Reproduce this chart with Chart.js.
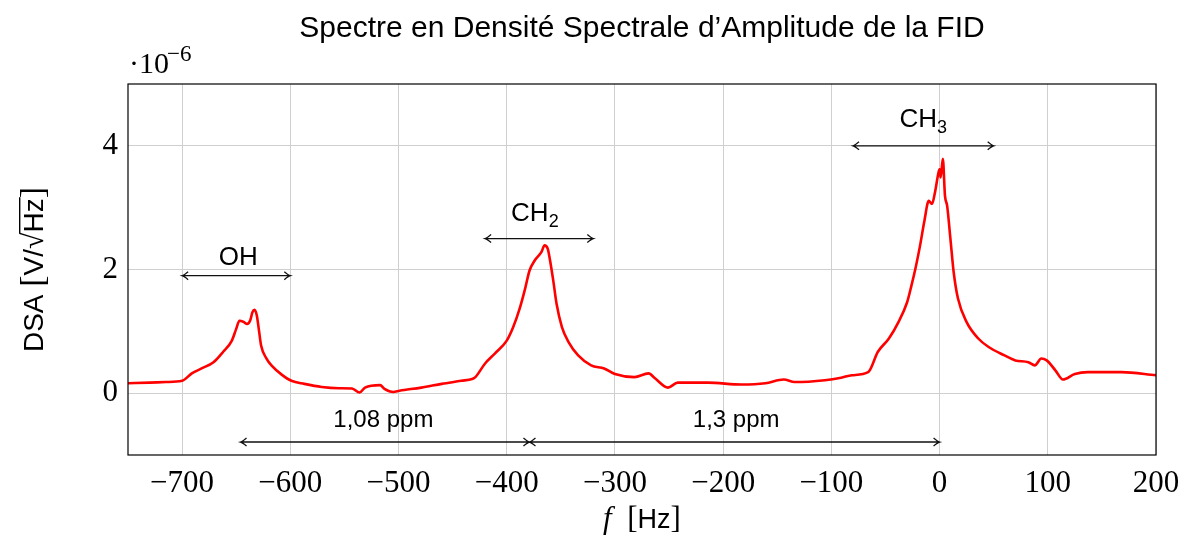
<!DOCTYPE html>
<html>
<head>
<meta charset="utf-8">
<script src="https://cdn.jsdelivr.net/npm/chart.js@4.4.1/dist/chart.umd.min.js"></script>
<style>
  html, body { margin: 0; padding: 0; background: #fff; }
</style>
</head>
<body>
<canvas id="fid" width="1186" height="536"></canvas>
<script>
// frequence (Hz) et DSA (en 1e-6 V/sqrt(Hz))
const freqHz = [-750, -730, -715, -700, -691, -682, -671, -662, -654, -650, -647, -643, -640, -637, -635, -633, -631, -629, -627, -622, -617, -608, -599, -587, -571, -555, -543, -536, -531, -517, -513, -505, -499, -479, -460, -442, -432, -429, -420, -411, -400, -394, -388, -383, -379, -374, -368, -365, -362, -360, -357, -354, -349, -343, -334, -322, -310, -300, -282, -269, -263, -251, -242, -214, -183, -161, -144, -134, -106, -91, -81, -66, -57, -47, -38, -30, -26, -22, -18, -14, -10, -7, -4, -1, 0, 1, 3, 5, 7, 10, 13, 17, 25, 36, 45, 60, 70, 82, 88, 94, 99, 107, 114, 125, 137, 168, 200];
const dsa = [0.16, 0.17, 0.18, 0.20, 0.32, 0.40, 0.50, 0.67, 0.85, 1.04, 1.17, 1.15, 1.12, 1.18, 1.31, 1.35, 1.26, 1.02, 0.77, 0.56, 0.44, 0.30, 0.20, 0.15, 0.10, 0.08, 0.075, 0.01, 0.09, 0.13, 0.07, 0.02, 0.04, 0.09, 0.15, 0.20, 0.23, 0.26, 0.48, 0.64, 0.85, 1.07, 1.37, 1.69, 1.98, 2.15, 2.28, 2.39, 2.33, 2.15, 1.82, 1.45, 1.07, 0.83, 0.61, 0.45, 0.40, 0.31, 0.26, 0.32, 0.24, 0.09, 0.17, 0.17, 0.14, 0.16, 0.22, 0.18, 0.21, 0.25, 0.29, 0.34, 0.67, 0.88, 1.15, 1.47, 1.74, 2.04, 2.39, 2.79, 3.11, 3.06, 3.27, 3.57, 3.62, 3.49, 3.79, 3.19, 3.03, 2.50, 1.96, 1.53, 1.15, 0.88, 0.75, 0.61, 0.53, 0.50, 0.45, 0.56, 0.53, 0.37, 0.22, 0.31, 0.34, 0.34, 0.29];

const xTicks = [-700, -600, -500, -400, -300, -200, -100, 0, 100, 200];
const yTicks = [0, 2, 4];

// pics : fleches et noms
const peakName = ["OH", "CH", "CH"];
const peakSub = ["", "2", "3"];
const peakX = [-648, -374, -15];
const peakY = [2.07, 2.78, 4.30];
const peakFrom = [-700, -420, -80];
const peakTo = [-600, -320, 50];
const peakArrowY = [1.9, 2.5, 4.0];

// ecarts en ppm
const gapText = ["1,08 ppm", "1,3 ppm"];
const gapX = [-514, -188];
const gapY = [-0.55, -0.55];
const gapFrom = [-646, -379];
const gapTo = [-379, 0];
const gapArrowY = [-0.79, -0.79];

const SANS = '"Liberation Sans", Arial, sans-serif';
const SERIF = '"Liberation Serif", "Times New Roman", serif';

function drawRuns(ctx, parts, cx, y) {
  let w = 0;
  parts.forEach(p => { ctx.font = p[1]; w += ctx.measureText(p[0]).width; });
  let x = cx - w / 2;
  ctx.textAlign = "left";
  ctx.textBaseline = "alphabetic";
  parts.forEach(p => {
    ctx.font = p[1];
    ctx.fillText(p[0], x, y + (p[2] || 0));
    x += ctx.measureText(p[0]).width;
  });
  return cx - w / 2;
}

function arrow(ctx, x1, x2, y) {
  ctx.beginPath();
  ctx.moveTo(x1, y);
  ctx.lineTo(x2, y);
  [[x1, 1], [x2, -1]].forEach(([x, d]) => {
    ctx.moveTo(x + d * 6, y - 4);
    ctx.quadraticCurveTo(x + d * 2, y - 0.5, x, y);
    ctx.quadraticCurveTo(x + d * 2, y + 0.5, x + d * 6, y + 4);
  });
  ctx.stroke();
}

const decor = {
  id: "decor",
  afterDraw(chart) {
    const ctx = chart.ctx;
    const a = chart.chartArea;
    const sx = chart.scales.x, sy = chart.scales.y;
    ctx.save();

    // cadre
    ctx.strokeStyle = "#000";
    ctx.lineWidth = 1.2;
    ctx.strokeRect(a.left, a.top, a.right - a.left, a.bottom - a.top);

    // titre
    ctx.fillStyle = "#000";
    ctx.font = "30px " + SANS;
    ctx.textAlign = "center";
    ctx.fillText("Spectre en Densité Spectrale d\u2019Amplitude de la FID", (a.left + a.right) / 2, 37);

    // facteur d'echelle
    ctx.textAlign = "left";
    ctx.font = "30px " + SERIF;
    ctx.fillText("\u00b710", 129, 73);
    ctx.font = "23px " + SERIF;
    ctx.fillText("\u22126", 167, 61);

    // titre axe x
    drawRuns(ctx, [["f", "italic 31px " + SERIF], ["  [", "31px " + SERIF], ["Hz", "27px " + SANS], ["]", "31px " + SERIF]], (a.left + a.right) / 2, 528);

    // titre axe y
    ctx.save();
    ctx.translate(43, (a.top + a.bottom) / 2);
    ctx.rotate(-Math.PI / 2);
    const parts = [["DSA ", "28px " + SANS], ["[", "34px " + SERIF], ["V/", "28px " + SANS], ["\u221a", "30px " + SERIF], ["Hz", "28px " + SANS], ["]", "34px " + SERIF]];
    const x0 = drawRuns(ctx, parts, 0, 0);
    let off = 0;
    for (let i = 0; i < 4; i++) { ctx.font = parts[i][1]; off += ctx.measureText(parts[i][0]).width; }
    ctx.font = parts[4][1];
    const hzW = ctx.measureText("Hz").width;
    ctx.fillRect(x0 + off - 1, -24, hzW + 2, 1.4);
    ctx.restore();

    // fleches et noms des pics
    ctx.strokeStyle = "#111";
    ctx.fillStyle = "#000";
    ctx.lineWidth = 1.3;
    for (let i = 0; i < peakName.length; i++) {
      arrow(ctx, sx.getPixelForValue(peakFrom[i]), sx.getPixelForValue(peakTo[i]), sy.getPixelForValue(peakArrowY[i]));
      const runs = [[peakName[i], "26px " + SANS]];
      if (peakSub[i]) runs.push([peakSub[i], "18px " + SANS, 6]);
      drawRuns(ctx, runs, sx.getPixelForValue(peakX[i]), sy.getPixelForValue(peakY[i]));
    }
    for (let i = 0; i < gapText.length; i++) {
      arrow(ctx, sx.getPixelForValue(gapFrom[i]), sx.getPixelForValue(gapTo[i]), sy.getPixelForValue(gapArrowY[i]));
      drawRuns(ctx, [[gapText[i], "24px " + SANS]], sx.getPixelForValue(gapX[i]), sy.getPixelForValue(gapY[i]));
    }
    ctx.restore();
  }
};

new Chart(document.getElementById("fid"), {
  type: "line",
  data: {
    datasets: [{
      data: freqHz.map((f, i) => ({ x: f, y: dsa[i] })),
      borderColor: "#ff0000",
      borderWidth: 2.6,
      pointRadius: 0,
      cubicInterpolationMode: "monotone",
      fill: false
    }]
  },
  options: {
    responsive: false,
    animation: false,
    layout: { padding: { left: 0, right: 30, top: 84, bottom: 0 } },
    plugins: { legend: { display: false }, title: { display: false }, tooltip: { enabled: false } },
    scales: {
      x: {
        type: "linear",
        min: -750,
        max: 200,
        afterBuildTicks: (axis) => { axis.ticks = xTicks.map(v => ({ value: v })); },
        afterFit: (axis) => { axis.height = 81; axis.paddingLeft = 0; axis.paddingRight = 0; },
        grid: { color: "#cfcfcf", lineWidth: 1, drawTicks: false },
        border: { display: false },
        ticks: {
          padding: 10,
          color: "#000",
          font: { family: SERIF, size: 31 },
          maxRotation: 0,
          callback: (v) => (v < 0 ? "\u2212" + Math.abs(v) : String(v))
        }
      },
      y: {
        min: -1,
        max: 5,
        afterBuildTicks: (axis) => { axis.ticks = yTicks.map(v => ({ value: v })); },
        afterFit: (axis) => { axis.width = 128; axis.paddingTop = 0; axis.paddingBottom = 0; },
        grid: { color: "#cfcfcf", lineWidth: 1, drawTicks: false },
        border: { display: false },
        ticks: {
          padding: 10,
          color: "#000",
          font: { family: SERIF, size: 31 },
          callback: (v) => String(v)
        }
      }
    }
  },
  plugins: [decor]
});
</script>
</body>
</html>
